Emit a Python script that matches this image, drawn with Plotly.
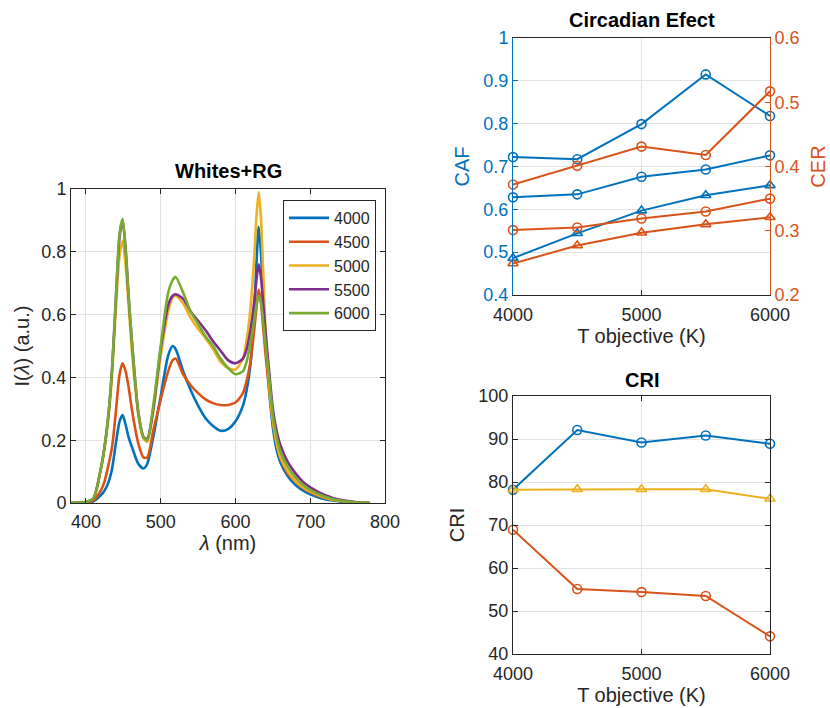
import plotly.graph_objects as go

# ---------------- data ----------------
wavelength = [380, 400, 410, 420, 425, 430, 435, 440, 445, 449, 453, 457, 462, 470, 477,
              482, 490, 500, 510, 516, 520, 530, 540, 550, 560, 570, 580, 590, 600, 610,
              615, 620, 625, 628, 631, 634, 637, 640, 645, 650, 655, 660, 670, 680, 690,
              700, 720, 740, 760, 780]

s4000 = [0, 0, 0.005, 0.025, 0.04, 0.065, 0.11, 0.19, 0.26, 0.28, 0.25, 0.21, 0.175, 0.125, 0.11,
         0.125, 0.21, 0.34, 0.47, 0.50, 0.49, 0.42, 0.36, 0.31, 0.27, 0.245, 0.23, 0.235, 0.26, 0.31,
         0.36, 0.44, 0.60, 0.76, 0.88, 0.80, 0.64, 0.52, 0.36, 0.24, 0.17, 0.13, 0.085, 0.058, 0.04,
         0.028, 0.012, 0.005, 0.001, 0]
s4500 = [0, 0, 0.008, 0.04, 0.07, 0.12, 0.18, 0.29, 0.41, 0.445, 0.42, 0.37, 0.29, 0.19, 0.145,
         0.145, 0.23, 0.33, 0.42, 0.455, 0.46, 0.41, 0.375, 0.35, 0.33, 0.318, 0.312, 0.312, 0.32, 0.35,
         0.39, 0.45, 0.55, 0.62, 0.68, 0.64, 0.56, 0.48, 0.36, 0.26, 0.19, 0.145, 0.095, 0.068, 0.048,
         0.034, 0.016, 0.007, 0.002, 0]
s5000 = [0, 0.003, 0.015, 0.11, 0.18, 0.27, 0.41, 0.62, 0.79, 0.835, 0.76, 0.63, 0.47, 0.28, 0.205,
         0.195, 0.29, 0.47, 0.61, 0.655, 0.66, 0.635, 0.59, 0.555, 0.525, 0.49, 0.45, 0.43, 0.425, 0.46,
         0.52, 0.62, 0.78, 0.91, 0.99, 0.91, 0.74, 0.56, 0.38, 0.26, 0.19, 0.145, 0.10, 0.07, 0.05,
         0.036, 0.017, 0.007, 0.002, 0]
s5500 = [0, 0.003, 0.015, 0.11, 0.18, 0.28, 0.43, 0.65, 0.85, 0.90, 0.81, 0.66, 0.50, 0.29, 0.21,
         0.205, 0.30, 0.49, 0.63, 0.66, 0.665, 0.65, 0.61, 0.58, 0.55, 0.515, 0.485, 0.455, 0.445, 0.46,
         0.49, 0.55, 0.64, 0.71, 0.76, 0.72, 0.64, 0.55, 0.42, 0.30, 0.23, 0.185, 0.13, 0.095, 0.068,
         0.05, 0.025, 0.01, 0.003, 0]
s6000 = [0, 0.003, 0.015, 0.11, 0.18, 0.28, 0.43, 0.65, 0.86, 0.905, 0.81, 0.66, 0.50, 0.29, 0.21,
         0.20, 0.31, 0.50, 0.67, 0.71, 0.72, 0.67, 0.61, 0.57, 0.53, 0.50, 0.46, 0.43, 0.41, 0.42,
         0.45, 0.51, 0.58, 0.63, 0.66, 0.64, 0.58, 0.51, 0.40, 0.28, 0.21, 0.165, 0.115, 0.082, 0.058,
         0.042, 0.02, 0.008, 0.002, 0]
spectra_names = ["4000", "4500", "5000", "5500", "6000"]

t_objective = [4000, 4500, 5000, 5500, 6000]
caf_a = [0.722, 0.717, 0.799, 0.915, 0.818]
caf_b = [0.628, 0.635, 0.676, 0.693, 0.726]
caf_c = [0.486, 0.544, 0.597, 0.633, 0.656]
cer_a = [0.372, 0.401, 0.431, 0.418, 0.517]
cer_b = [0.301, 0.305, 0.319, 0.330, 0.350]
cer_c = [0.249, 0.277, 0.297, 0.310, 0.321]

cri_a = [78.2, 92.1, 89.2, 90.8, 88.9]
cri_b = [68.9, 55.1, 54.4, 53.5, 44.1]
cri_c = [78.2, 78.3, 78.3, 78.3, 76.1]

# ---------------- style ----------------
BLUE = "#0072BD"
ORANGE = "#D95319"
YELLOW = "#EDB120"
PURPLE = "#7E2F8E"
GREEN = "#77AC30"
AX = "#262626"
GRID = "#e3e3e3"
FONT = "Liberation Sans, Arial, sans-serif"

fig = go.Figure()

for vals, name, col in zip([s4000, s4500, s5000, s5500, s6000], spectra_names,
                           [BLUE, ORANGE, YELLOW, PURPLE, GREEN]):
    fig.add_trace(go.Scatter(x=wavelength, y=vals, name=name, mode="lines",
                             line=dict(color=col, width=2.6, shape="spline", smoothing=0.7),
                             xaxis="x", yaxis="y", showlegend=True))

def mk(y, xa, ya, col, sym):
    return go.Scatter(x=t_objective, y=y, mode="lines+markers", xaxis=xa, yaxis=ya,
                      line=dict(color=col, width=2),
                      marker=dict(symbol=sym, size=9, color=col, line=dict(width=1.6)),
                      cliponaxis=False, showlegend=False)

fig.add_trace(mk(caf_a, "x2", "y2", BLUE, "circle-open"))
fig.add_trace(mk(caf_b, "x2", "y2", BLUE, "circle-open"))
fig.add_trace(mk(caf_c, "x2", "y2", BLUE, "triangle-up-open"))
fig.add_trace(mk(cer_a, "x2", "y3", ORANGE, "circle-open"))
fig.add_trace(mk(cer_b, "x2", "y3", ORANGE, "circle-open"))
fig.add_trace(mk(cer_c, "x2", "y3", ORANGE, "triangle-up-open"))

fig.add_trace(mk(cri_a, "x3", "y4", BLUE, "circle-open"))
fig.add_trace(mk(cri_b, "x3", "y4", ORANGE, "circle-open"))
fig.add_trace(mk(cri_c, "x3", "y4", YELLOW, "triangle-up-open"))

def axis(**kw):
    d = dict(showline=True, linecolor=AX, linewidth=1, ticks="inside", ticklen=5,
             tickcolor=AX, showgrid=True, gridcolor=GRID, gridwidth=1, zeroline=False,
             mirror="ticks", automargin=False,
             tickfont=dict(size=18, color=AX, family=FONT),
             title_font=dict(size=20, color=AX, family=FONT))
    d.update(kw)
    return d

W, H = 830, 708
def px(x0, x1):
    return [x0 / W, x1 / W]
def py(top, bottom):
    return [1 - bottom / H, 1 - top / H]

fig.update_layout(
    width=W, height=H, margin=dict(l=0, r=0, t=0, b=0),
    paper_bgcolor="white", plot_bgcolor="white",
    font=dict(family=FONT, color=AX),
    xaxis=axis(domain=px(71, 385), range=[380, 800], tick0=400, dtick=100, anchor="y",
               ticklabelstandoff=2, title=dict(text="<i>λ</i> (nm)", standoff=2)),
    yaxis=axis(domain=py(189, 503), range=[0, 1], dtick=0.2, anchor="x",
               title=dict(text="I(<i>λ</i>) (a.u.)", standoff=6)),
    xaxis2=axis(domain=px(513, 770), range=[4000, 6000], dtick=1000, anchor="y2",
                mirror=True, ticklabelstandoff=3,
                title=dict(text="T objective (K)", standoff=2)),
    yaxis2=axis(domain=py(38, 295), range=[0.4, 1], dtick=0.1, anchor="x2", mirror=False,
                linecolor=BLUE, tickcolor=BLUE, tickfont=dict(size=18, color=BLUE, family=FONT),
                title=dict(text="CAF", standoff=8, font=dict(size=20, color=BLUE, family=FONT))),
    yaxis3=axis(range=[0.2, 0.6], dtick=0.1, anchor="x2", overlaying="y2", side="right",
                mirror=False, showgrid=False, linecolor=ORANGE, tickcolor=ORANGE,
                tickfont=dict(size=18, color=ORANGE, family=FONT),
                title=dict(text="CER", standoff=12, font=dict(size=20, color=ORANGE, family=FONT))),
    xaxis3=axis(domain=px(513, 770), range=[4000, 6000], dtick=1000, anchor="y4",
                ticklabelstandoff=3, title=dict(text="T objective (K)", standoff=2)),
    yaxis4=axis(domain=py(396, 654), range=[40, 100], dtick=10, anchor="x3",
                title=dict(text="CRI", standoff=8)),
    legend=dict(x=283 / W, y=1 - 200 / H, xanchor="left", yanchor="top",
                bgcolor="white", bordercolor=AX, borderwidth=1,
                font=dict(size=16, color=AX, family=FONT), itemwidth=40,
                tracegroupgap=0),
    annotations=[
        dict(text="<b>Whites+RG</b>", x=228 / W, y=1 - 171 / H, xref="paper", yref="paper",
             xanchor="center", yanchor="middle",
             showarrow=False, font=dict(size=20, color="black", family=FONT)),
        dict(text="<b>Circadian Efect</b>", x=642 / W, y=1 - 20 / H, xref="paper", yref="paper",
             xanchor="center", yanchor="middle",
             showarrow=False, font=dict(size=20, color="black", family=FONT)),
        dict(text="<b>CRI</b>", x=642 / W, y=1 - 380 / H, xref="paper", yref="paper",
             xanchor="center", yanchor="middle",
             showarrow=False, font=dict(size=20, color="black", family=FONT)),
    ],
)

fig.write_html("out.html")
